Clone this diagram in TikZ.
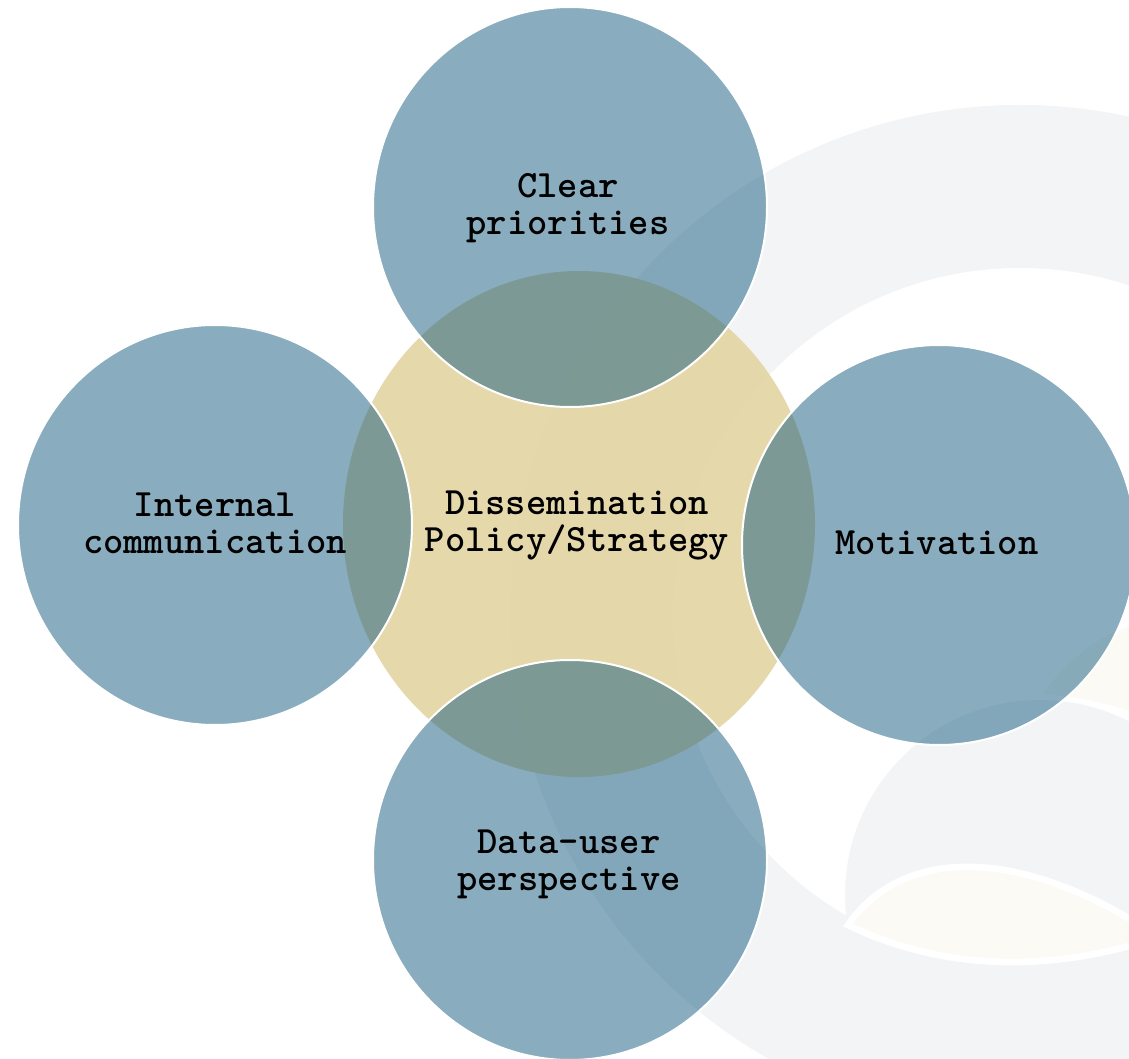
\documentclass[tikz,border=0pt]{standalone}
\usepackage{fontspec}
\newfontfamily\slabmono{lmmonolt10-bold.otf}
\definecolor{bggray}{RGB}{243,244,246}
\definecolor{cream}{RGB}{251,250,245}
\definecolor{corecol}{RGB}{227,213,163}
\definecolor{petal}{RGB}{21,91,127}
\tikzset{
  petalfill/.style={fill=petal, fill opacity=0.5, draw=white, draw opacity=1, line width=1.5pt},
  corefill/.style={fill=corecol, fill opacity=0.9},
  bubbletext/.style={font=\slabmono\fontsize{29}{27.75}\selectfont, align=center, text=black, inner sep=0pt}
}
\begin{document}
\begin{tikzpicture}[x=0.75pt,y=-0.75pt]
\useasboundingbox (0,0) rectangle (1129,1059);
\clip (0,0) rectangle (1129,1059);
\fill[white] (0,0) rectangle (1129,1059);
% background decoration
\fill[bggray] (1020,615) circle[radius=510];
\fill[white] (1020,615) circle[radius=347];
\fill[bggray] (1040,895) circle[radius=195];
\filldraw[cream, draw=white, line width=5pt]
  (848,925) .. controls (900,850) and (1010,845) .. (1140,925)
  -- (1140,943) .. controls (1030,975) and (930,965) .. (848,925) -- cycle;
\filldraw[cream, draw=white, line width=2pt]
  (1040,695) .. controls (1070,655) and (1100,632) .. (1140,622)
  -- (1140,715) .. controls (1100,703) and (1070,697) .. (1040,695) -- cycle;
% core
\fill[corefill] (579,524) ellipse[x radius=236, y radius=253];
% petals
\filldraw[petalfill] (570,207) ellipse[x radius=197, y radius=200];
\filldraw[petalfill] (215,525) ellipse[x radius=197, y radius=200];
\filldraw[petalfill] (939,545) ellipse[x radius=197, y radius=200];
\filldraw[petalfill] (570,860) ellipse[x radius=197, y radius=200];
% texts
\node[bubbletext] (core) at (577,525) {Dissemination\\Policy/Strategy};
\node[bubbletext] (top) at (568,208) {Clear\\priorities};
\node[bubbletext] (left) at (215,523) {Internal\\communication};
\node[bubbletext] (right) at (937,543) {Motivation};
\node[bubbletext] (bottom) at (569,864) {Data-user\\perspective};
\end{tikzpicture}
\end{document}
